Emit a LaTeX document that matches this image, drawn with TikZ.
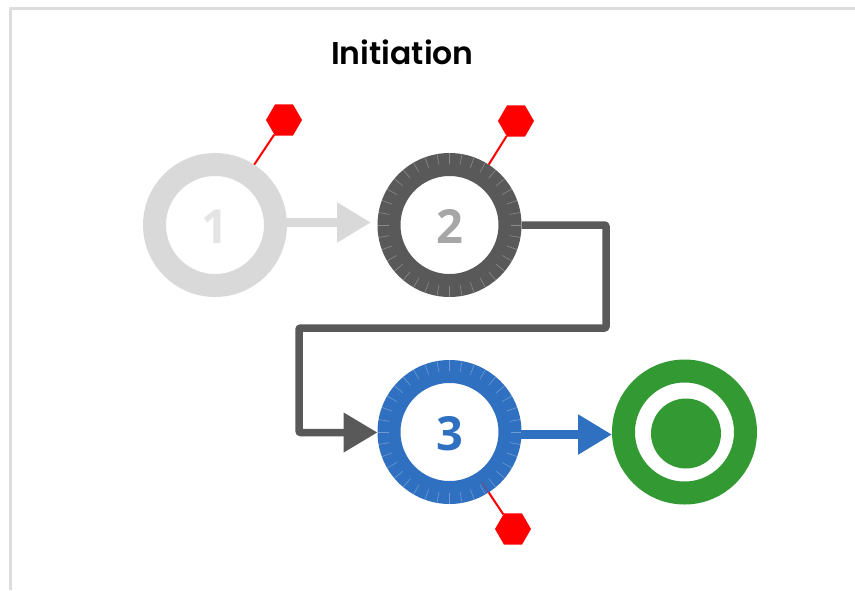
\documentclass[tikz,border=0pt]{standalone}
\usepackage{fontspec}
\setmainfont{Open Sans}
\newfontfamily\titlefont{Poppins}[BoldFont={* SemiBold}]
\usetikzlibrary{arrows.meta,shapes.geometric}
\definecolor{ringgrey}{HTML}{D9D9D9}
\definecolor{darkgrey}{HTML}{595959}
\definecolor{midgrey}{HTML}{A6A6A6}
\definecolor{stateblue}{HTML}{3070C0}
\definecolor{endgreen}{HTML}{339933}
\definecolor{framegrey}{HTML}{DDDDDD}
\tikzset{
	statering/.style={circle,draw=#1,line width=23pt,minimum size=121pt,inner sep=0pt,text height=36.5pt,font=\fontsize{47}{47}\selectfont\bfseries},
	hexpin/.style={regular polygon,regular polygon sides=6,fill=red,minimum size=36pt,inner sep=0pt},
	pinline/.style={red,line width=2pt},
	flowline/.style={line width=7.5pt,-{Triangle[length=34pt,width=38pt]}},
	tickline/.style={white,opacity=0.3,line width=0.6pt},
}
\begin{document}
\begin{tikzpicture}[x=1pt,y=-1pt,line join=round]
	\useasboundingbox (0,0) rectangle (855,590);
	\draw[framegrey,line width=3pt] (10,590)--(10,8)--(855,8);
	\node (title) at (402.5,52) {\titlefont\fontsize{31.5}{31.5}\selectfont\bfseries Initiation};
	\node[statering=ringgrey,text=ringgrey!70!white] (one) at (215,225) {1};
	\node[statering=darkgrey,text=midgrey] (two) at (449.5,225) {2};
	\node[statering=stateblue,text=stateblue] (three) at (449.5,432) {3};
	\node[circle,draw=endgreen,line width=23pt,minimum size=122pt,inner sep=0pt] (finish) at (684.5,432) {};
	\node[circle,fill=endgreen,minimum size=70pt,inner sep=0pt] (finishdot) at ([shift={(1.5,1.5)}]finish) {};
	\node[hexpin] (hexone) at (284,120) {};
	\node[hexpin] (hextwo) at (516,121) {};
	\node[hexpin] (hexthree) at (513,529) {};
	\draw[pinline] (one.57)--(hexone);
	\draw[pinline] (two.57)--(hextwo);
	\draw[pinline] (three.-57)--(hexthree);
	\foreach \a in {0,10,...,350}{
		\draw[tickline] (two.\a)--++(-\a+180:11);
		\draw[tickline] (three.\a)--++(-\a+180:11);
	}
	\draw[red!45!stateblue,line width=0.6pt] (three.-57)--++(-123:13);
	\coordinate (tipone) at (371,223);
	\draw[flowline,ringgrey,line width=9pt] (one.2)--(one.2-|tipone);
	\draw[flowline,darkgrey,rounded corners=1pt] (two.east)-|(606,328)-|(299,432.5)--(three.west|-299,432.5);
	\draw[flowline,stateblue,line width=8.5pt] (three.-2)--(three.-2-|finish.west);
\end{tikzpicture}
\end{document}
